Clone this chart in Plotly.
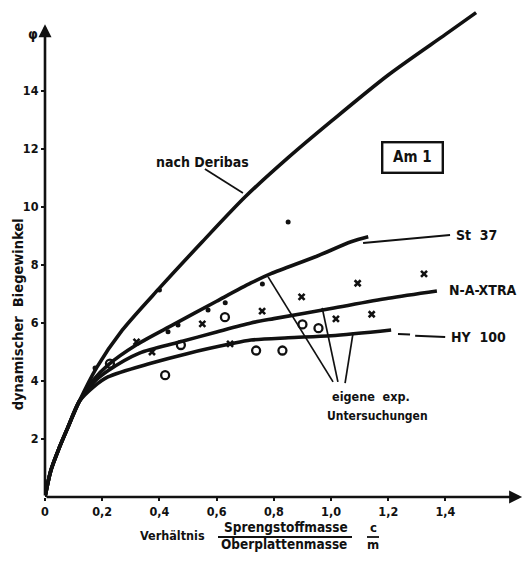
import plotly.graph_objects as go

# ---------------- data ----------------
deribas_x = [0, 0.02, 0.05, 0.08, 0.12, 0.18, 0.27, 0.40, 0.55, 0.70, 0.85, 1.00, 1.20, 1.40, 1.507]
deribas_y = [0, 0.9, 1.7, 2.4, 3.3, 4.45, 5.75, 7.2, 8.8, 10.35, 11.7, 12.95, 14.55, 15.95, 16.7]

st37_x = [0, 0.02, 0.05, 0.08, 0.12, 0.17, 0.22, 0.32, 0.45, 0.60, 0.72, 0.79, 0.95, 1.07, 1.13]
st37_y = [0, 0.9, 1.7, 2.4, 3.3, 4.05, 4.55, 5.25, 5.95, 6.75, 7.38, 7.7, 8.3, 8.8, 8.97]

naxtra_x = [0, 0.02, 0.05, 0.08, 0.12, 0.17, 0.22, 0.33, 0.47, 0.60, 0.72, 0.80, 1.00, 1.20, 1.37]
naxtra_y = [0, 0.9, 1.7, 2.4, 3.3, 3.95, 4.35, 4.96, 5.34, 5.69, 6.0, 6.15, 6.5, 6.85, 7.1]

hy100_x = [0, 0.02, 0.05, 0.08, 0.12, 0.17, 0.22, 0.37, 0.50, 0.65, 0.72, 0.85, 1.00, 1.21]
hy100_y = [0, 0.9, 1.7, 2.4, 3.3, 3.8, 4.14, 4.61, 4.95, 5.28, 5.41, 5.49, 5.56, 5.76]

dots_x = [0.40, 0.85, 0.76, 0.63, 0.57, 0.465, 0.43, 0.175]
dots_y = [7.14, 9.48, 7.34, 6.70, 6.45, 5.93, 5.70, 4.45]

cross_x = [0.32, 0.374, 0.55, 0.647, 0.759, 0.897, 1.017, 1.093, 1.142, 1.325]
cross_y = [5.35, 5.00, 5.97, 5.28, 6.41, 6.90, 6.14, 7.37, 6.30, 7.69]

circ_x = [0.227, 0.42, 0.475, 0.629, 0.738, 0.83, 0.90, 0.956]
circ_y = [4.60, 4.20, 5.24, 6.20, 5.05, 5.05, 5.95, 5.82]

x_ticks = [0, 0.2, 0.4, 0.6, 0.8, 1.0, 1.2, 1.4]
x_tick_labels = ["0", "0,2", "0,4", "0,6", "0,8", "1,0", "1,2", "1,4"]
y_ticks = [2, 4, 6, 8, 10, 12, 14]
y_tick_labels = ["2", "4", "6", "8", "10", "12", "14"]

FONT = "DejaVu Sans Condensed, DejaVu Sans, sans-serif"
BLACK = "#111111"

fig = go.Figure()

for xs, ys in [(deribas_x, deribas_y), (st37_x, st37_y), (naxtra_x, naxtra_y), (hy100_x, hy100_y)]:
    fig.add_trace(go.Scatter(x=xs, y=ys, mode="lines",
                             line=dict(color=BLACK, width=3.6, shape="spline", smoothing=0.8),
                             showlegend=False, hoverinfo="skip"))

fig.add_trace(go.Scatter(x=dots_x, y=dots_y, mode="markers",
                         marker=dict(symbol="circle", size=5, color=BLACK),
                         showlegend=False))
fig.add_trace(go.Scatter(x=cross_x, y=cross_y, mode="markers",
                         marker=dict(symbol="x-thin", size=6, color=BLACK,
                                     line=dict(width=2.6, color=BLACK)),
                         showlegend=False))
fig.add_trace(go.Scatter(x=circ_x, y=circ_y, mode="markers",
                         marker=dict(symbol="circle-open", size=8, color=BLACK,
                                     line=dict(width=2.3, color=BLACK)),
                         showlegend=False))

# leader lines
def seg(x0, y0, x1, y1, w=1.7, dash="solid"):
    fig.add_shape(type="line", xref="x", yref="y", x0=x0, y0=y0, x1=x1, y1=y1,
                  line=dict(color=BLACK, width=w, dash=dash))

seg(0.559, 11.31, 0.692, 10.48)            # nach Deribas
seg(1.112, 8.76, 1.416, 9.03, w=2)          # St 37
seg(1.234, 5.62, 1.276, 5.60, w=2)          # HY 100 dashes
seg(1.294, 5.56, 1.399, 5.52, w=2)
seg(0.780, 7.59, 1.007, 3.97)               # eigene exp. Untersuchungen
seg(0.969, 6.52, 1.024, 3.97)
seg(1.077, 5.66, 1.049, 3.93)

# axes with arrows
fig.add_annotation(x=0, y=16.3, ax=0, ay=0, xref="x", yref="y", axref="x", ayref="y",
                   showarrow=True, arrowhead=2, arrowsize=1, arrowwidth=2.6,
                   arrowcolor=BLACK, text="")
fig.add_annotation(x=1.668, y=0, ax=0, ay=0, xref="x", yref="y", axref="x", ayref="y",
                   showarrow=True, arrowhead=2, arrowsize=1, arrowwidth=2.6,
                   arrowcolor=BLACK, text="")

def txt(x, y, s, size=12, xanchor="center", xref="x", yref="y", **kw):
    fig.add_annotation(x=x, y=y, xref=xref, yref=yref, text="<b>" + s + "</b>",
                       showarrow=False, xanchor=xanchor, yanchor="middle",
                       font=dict(family=FONT, size=size, color=BLACK), **kw)

txt(0.552, 11.55, "nach Deribas", size=14)
txt(1.283, 11.69, "&nbsp;Am 1&nbsp;", size=15, bordercolor=BLACK, borderwidth=2.4, borderpad=5)
txt(1.43, 9.05, "St  37", size=14, xanchor="left")
txt(1.405, 7.15, "N-A-XTRA", size=14, xanchor="left")
txt(1.412, 5.52, "HY  100", size=14, xanchor="left")
txt(0.998, 3.45, "eigene  exp.", size=12.5, xanchor="left")
txt(0.98, 2.80, "Untersuchungen", size=12, xanchor="left")

# phi label at axis top
fig.add_annotation(x=0, y=15.95, xref="paper", yref="y", xshift=-5, text="<b>φ</b>",
                   showarrow=False, xanchor="right", yanchor="middle",
                   font=dict(family=FONT, size=14, color=BLACK))

# y-axis title
fig.add_annotation(x=0, y=6.3, xref="paper", yref="y", xshift=-27,
                   text="<b>dynamischer  Biegewinkel</b>", showarrow=False, textangle=-90,
                   xanchor="center", yanchor="middle",
                   font=dict(family=FONT, size=14.5, color=BLACK))

# x-axis title (fraction)
fig.add_annotation(x=0.444, y=0, xref="x", yref="y", yshift=-38, text="<b>Verhältnis</b>",
                   showarrow=False, xanchor="center", yanchor="middle",
                   font=dict(family=FONT, size=12.5, color=BLACK))
fig.add_annotation(x=0.843, y=0, xref="x", yref="y", yshift=-30, text="<b>Sprengstoffmasse</b>",
                   showarrow=False, xanchor="center", yanchor="middle",
                   font=dict(family=FONT, size=13.5, color=BLACK))
fig.add_annotation(x=0.836, y=0, xref="x", yref="y", yshift=-47, text="<b>Oberplattenmasse</b>",
                   showarrow=False, xanchor="center", yanchor="middle",
                   font=dict(family=FONT, size=13.5, color=BLACK))
fig.add_annotation(x=1.147, y=0, xref="x", yref="y", yshift=-30, text="<b>c</b>",
                   showarrow=False, xanchor="center", yanchor="middle",
                   font=dict(family=FONT, size=13, color=BLACK))
fig.add_annotation(x=1.147, y=0, xref="x", yref="y", yshift=-47, text="<b>m</b>",
                   showarrow=False, xanchor="center", yanchor="middle",
                   font=dict(family=FONT, size=13, color=BLACK))
fig.add_shape(type="line", xref="paper", yref="paper", x0=(218 - 45) / 478, x1=(352 - 45) / 478,
              y0=-(537 - 497) / 487, y1=-(537 - 497) / 487, line=dict(color=BLACK, width=1.8))
fig.add_shape(type="line", xref="paper", yref="paper", x0=(367 - 45) / 478, x1=(379 - 45) / 478,
              y0=-(537 - 497) / 487, y1=-(537 - 497) / 487, line=dict(color=BLACK, width=1.8))

fig.update_layout(
    width=528, height=565,
    margin=dict(l=45, r=5, t=10, b=68),
    paper_bgcolor="white", plot_bgcolor="white",
    font=dict(family=FONT, color=BLACK),
    xaxis=dict(range=[0, 1.671], tickvals=x_ticks, ticktext=["<b>%s</b>" % t for t in x_tick_labels],
               showgrid=False, zeroline=False, showline=False, ticks="outside", ticklen=3,
               tickwidth=2, tickcolor=BLACK, tickfont=dict(size=12.5, family=FONT, color=BLACK)),
    yaxis=dict(range=[0, 16.79], tickvals=y_ticks, ticktext=["<b>%s</b>" % t for t in y_tick_labels],
               showgrid=False, zeroline=False, showline=False, ticks="outside", ticklen=3,
               tickwidth=2, tickcolor=BLACK, tickfont=dict(size=12.5, family=FONT, color=BLACK)),
)

fig.write_html("out.html", config={"displayModeBar": False},
               post_script="document.body.style.margin='0';")
